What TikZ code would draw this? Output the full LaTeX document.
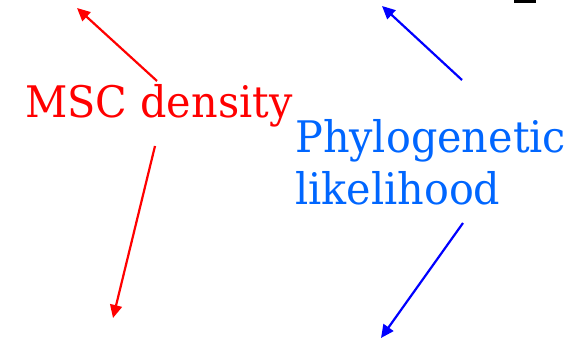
\documentclass[tikz,border=0pt]{standalone}
\usepackage{fontspec}
\setmainfont[FakeStretch=0.95]{DejaVu Serif}
\usetikzlibrary{arrows.meta}
\definecolor{mscred}{RGB}{255,0,0}
\definecolor{phyloblue}{RGB}{0,102,255}
\definecolor{arrblue}{RGB}{0,0,255}
\begin{document}
\begin{tikzpicture}[x=1pt,y=-1pt,
  lbl/.style={inner sep=0pt, anchor=base west, align=left, font=\fontsize{43.5}{52}\selectfont},
  arr/.style={line width=2.2pt, -{Triangle[length=13pt,width=12pt]}}]
\useasboundingbox (0,0) rectangle (579,339);
\fill[black] (514,0) rectangle (536,3);
\node[lbl, text=mscred] (msc) at (25,118) {MSC density};
\node[lbl, text=phyloblue] (phylo) at (295,205) {Phylogenetic\\likelihood};
\coordinate (r1s) at (157,81);
\coordinate (r1t) at (77,8);
\coordinate (r2s) at (155,146);
\coordinate (r2t) at (113,318);
\coordinate (b1s) at (462,80);
\coordinate (b1t) at (382,6);
\coordinate (b2s) at (463,223);
\coordinate (b2t) at (381,338);
\draw[arr, mscred] (r1s) -- (r1t);
\draw[arr, mscred] (r2s) -- (r2t);
\draw[arr, arrblue] (b1s) -- (b1t);
\draw[arr, arrblue] (b2s) -- (b2t);
\end{tikzpicture}
\end{document}
